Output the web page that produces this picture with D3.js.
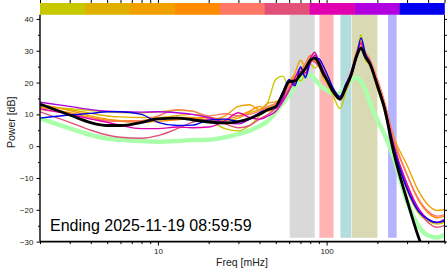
<!DOCTYPE html>
<html>
<head>
<meta charset="utf-8">
<script src="https://cdn.jsdelivr.net/npm/d3@7"></script>
<style>
  body { margin: 0; background: #fff; }
  svg { display: block; font-family: "Liberation Sans", Arial, sans-serif; }
</style>
</head>
<body>
<div id="chart"></div>
<script>
// frequency grid in mHz
const freqs = [2, 3, 4, 5, 6, 8, 10, 13, 16, 20, 25, 30, 35, 40, 45, 50, 55, 60, 65, 70, 75, 80, 85, 90, 95, 100,
  110, 120, 130, 140, 150, 160, 170, 180, 200, 220, 250, 300, 350, 400, 450, 500];

// power in dB for each time slice (same order as the colour bar)
const slice1 = [12.5, 11.8, 11.2, 10.8, 10.6, 10.5, 10.8, 11.3, 11.0, 8.5, 5.5, 4.8, 6.5, 9.5, 14, 21, 22, 18.5, 22, 20.5, 23, 26, 24.5, 25.5, 21.5, 20,
  15.5, 11.8, 17, 22, 28, 35, 27, 25.5, 18, 11, -1, -14, -21, -23.5, -24.5, -24];
const slice2 = [12.8, 11.5, 10.3, 9.5, 9.2, 9.0, 9.0, 9.6, 10.0, 9.2, 8.0, 8.8, 10.5, 11.5, 12, 13.5, 16, 19.5, 21, 24, 26, 28.5, 28, 26.5, 24, 21.5,
  17.5, 15, 18, 23, 29, 32, 29, 26.5, 19.5, 13, 0, -13, -20, -23, -24, -23.5];
const slice3 = [13.2, 11.2, 9.5, 8.5, 8.0, 8.0, 8.5, 9.0, 9.0, 8.2, 9.5, 12.5, 13, 11.5, 13.5, 14, 15.5, 20, 23, 27, 25, 28, 29, 26, 24.5, 22,
  18, 15.5, 19, 23.5, 29.5, 33, 29.5, 27, 21, 14, 3, -6, -14, -18.5, -20.2, -20];
const slice4 = [12.2, 10.5, 9.0, 8.2, 7.8, 7.5, 7.8, 8.3, 8.8, 9.0, 8.5, 9.5, 11, 12.5, 11, 12, 15, 18, 20, 22.5, 24, 26.5, 27, 25, 23.5, 21,
  17, 15, 18.5, 22.5, 28.5, 31.5, 29, 26.5, 20, 13, 1.5, -9, -17, -21, -22.5, -22];
const slice5 = [11.5, 10.2, 8.8, 8.0, 7.8, 8.0, 9.5, 11.5, 11.0, 9.5, 10.2, 9.5, 10, 11, 12.5, 13.5, 15.5, 19, 22, 23, 26, 28.5, 27.5, 26, 24, 21.5,
  17.5, 15.5, 19, 23, 28.5, 32, 29.5, 27.5, 21, 14, 2.5, -9, -16.5, -20.5, -22, -21.5];
const slice6 = [10.8, 7.5, 5.0, 3.5, 2.8, 2.5, 3.3, 5.5, 7.5, 8.5, 7.0, 5.8, 6.5, 8.5, 10, 12, 14.5, 18, 20.5, 22, 24.5, 27, 26.5, 25, 23, 20.5,
  16.5, 14.5, 18, 22, 27.5, 30.5, 28, 26, 19.5, 12, 0, -12, -20, -24, -25.5, -25];
const slice7 = [11.8, 10.0, 8.5, 7.5, 6.5, 5.5, 5.5, 6.0, 5.8, 6.0, 8.0, 10.5, 9, 8.5, 9.5, 11, 14, 17.5, 21.5, 24.5, 23, 27.5, 29.5, 26.5, 24, 21,
  17, 15.5, 19.5, 23.5, 29, 32.5, 28.5, 26, 19.5, 12.5, 0.5, -12, -19.5, -23, -24, -23.5];
const slice8 = [13.8, 12.5, 11.5, 11.0, 10.8, 10.7, 10.8, 10.5, 10.0, 9.0, 7.5, 7.0, 8.5, 10.5, 11.5, 12, 15, 20.5, 19.5, 23.5, 22, 26, 28.5, 27, 24, 21.5,
  17, 15, 18.5, 23, 28.5, 31, 28.5, 26.5, 19.5, 12.5, 0, -13, -20, -23, -24, -23];
const slice9 = [8.8, 9.8, 10.3, 10.8, 10.8, 10.0, 7.5, 6.5, 6.6, 8.2, 8.5, 7.8, 8.5, 10.5, 11.5, 12.5, 17, 21, 19, 25, 21.5, 27, 27.7, 27.5, 25.5, 23,
  18, 15.6, 19.5, 22.5, 27.5, 34, 29, 26.5, 19.5, 12.5, -0.5, -13.5, -20.5, -23, -24, -23.5];
const reference = [8.7, 5.6, 3.5, 2.4, 2.0, 1.6, 1.4, 1.6, 1.9, 2.0, 2.8, 3.8, 4.9, 6.3, 8.0, 10.8, 13.5, 16.1, 18.9, 20.8, 22.1, 22.4, 21.1, 19.6, 18.3, 17.7,
  16.4, 16.5, 19.3, 20.8, 21.4, 20.3, 17.7, 13.9, 8.2, 3.8, -3.5, -17.4, -25, -28.1, -28.7, -27.8];
const mean = [13.2, 9.8, 7.4, 6.5, 6.5, 7.5, 8.6, 8.8, 8.3, 7.6, 7.3, 7.7, 8.7, 10.0, 11.5, 12.5, 16.5, 20.3, 20.5, 22.5, 24.5, 27.0, 27.7, 26.0, 23.0, 21.0,
  17.0, 14.8, 18.5, 22.5, 28.0, 30.8, 28.0, 26.0, 19.0, 12.0, -2.0, -17, -28.5, -36, -40, -40];

const slices = [slice1, slice2, slice3, slice4, slice5, slice6, slice7, slice8, slice9];
const sliceColors = ['#c8c800', '#e0b000', '#f0a000', '#ff8c00', '#ff7866', '#e05078', '#e000b0', '#b000e0', '#0000ee'];

// shaded frequency bands [from, to] in mHz
const bandRanges = [[60, 85], [90, 110], [120, 140], [140, 200], [230, 260]];
const bandColors = ['#d9d9d9', '#ffb3b3', '#b3dcdc', '#d9d9b3', '#b3b3ff'];

const yTicks = [-30, -20, -10, 0, 10, 20, 30, 40];
const xTicks = [10, 100];
const caption = 'Ending 2025-11-19 08:59:59';

const width = 448, height = 271;
const plotLeft = 40, plotRight = 444.5, plotTop = 3, plotBottom = 241.6;

const svg = d3.select('#chart')
  .append('svg')
  .attr('width', width)
  .attr('height', height);

const xScale = d3.scaleLog().domain([2, 500]).range([plotLeft, plotRight]);
const yScale = d3.scaleLinear().domain([-30, 45]).range([plotBottom, plotTop]);

svg.append('clipPath').attr('id', 'plot')
  .append('rect')
  .attr('x', plotLeft).attr('y', yScale(41.3))
  .attr('width', plotRight - plotLeft).attr('height', plotBottom - yScale(41.3));

/* bands */
svg.append('g').selectAll('rect')
  .data(bandRanges)
  .join('rect')
  .attr('x', d => xScale(d[0]) + 0.5)
  .attr('width', d => xScale(d[1]) - xScale(d[0]) - 0.5)
  .attr('y', yScale(41.3))
  .attr('height', yScale(-28.8) - yScale(41.3))
  .attr('fill', (d, i) => bandColors[i]);

/* colour bar for the time slices */
const logMin = Math.log10(2), logMax = Math.log10(500);
const barEdges = d3.range(10).map(i => Math.pow(10, logMin + i * (logMax - logMin) / 9));
svg.append('g').selectAll('rect')
  .data(sliceColors)
  .join('rect')
  .attr('x', (d, i) => xScale(barEdges[i]))
  .attr('width', (d, i) => xScale(barEdges[i + 1]) - xScale(barEdges[i]) + 0.3)
  .attr('y', yScale(45))
  .attr('height', yScale(41.3) - yScale(45))
  .attr('fill', d => d);

const line = d3.line()
  .x((d, i) => xScale(freqs[i]))
  .y(d => yScale(d))
  .curve(d3.curveMonotoneX);

const lines = svg.append('g').attr('clip-path', 'url(#plot)');

lines.append('path')
  .datum(reference)
  .attr('fill', 'none')
  .attr('stroke', '#aaffaa')
  .attr('stroke-width', 4.5)
  .attr('d', line);

slices.forEach((s, i) => {
  lines.append('path')
    .datum(s)
    .attr('fill', 'none')
    .attr('stroke', sliceColors[i])
    .attr('stroke-width', 1.4)
    .attr('d', line);
});

lines.append('path')
  .datum(mean)
  .attr('fill', 'none')
  .attr('stroke', '#000')
  .attr('stroke-width', 2.8)
  .attr('d', line);

/* axes */
const minorX = [];
[1, 10, 100].forEach(dec => d3.range(1, 10).forEach(k => {
  const v = dec * k;
  if (v >= 2 && v <= 500 && xTicks.indexOf(v) < 0) minorX.push(v);
}));
const minorY = d3.range(-25, 45, 10);

function styleAxis(g) {
  g.select('.domain').remove();
  g.selectAll('line').attr('stroke', '#000');
  g.selectAll('text').attr('fill', '#222').style('font-size', '8px');
}

// bottom
svg.append('g').attr('transform', `translate(0,${plotBottom})`)
  .call(d3.axisBottom(xScale).tickValues(xTicks).tickFormat(d3.format('d')).tickSize(4).tickPadding(3))
  .call(styleAxis);
svg.append('g').attr('transform', `translate(0,${plotBottom})`)
  .call(d3.axisBottom(xScale).tickValues(minorX).tickFormat('').tickSize(2.5))
  .call(styleAxis);
// top
svg.append('g').attr('transform', `translate(0,${plotTop})`)
  .call(d3.axisTop(xScale).tickValues(xTicks.concat(minorX)).tickFormat('').tickSize(3))
  .call(styleAxis);
// left
svg.append('g').attr('transform', `translate(${plotLeft},0)`)
  .call(d3.axisLeft(yScale).tickValues(yTicks).tickFormat(d => d < 0 ? '\u2212' + Math.abs(d) : d).tickSize(3.5).tickPadding(3))
  .call(styleAxis);
svg.append('g').attr('transform', `translate(${plotLeft},0)`)
  .call(d3.axisLeft(yScale).tickValues(minorY).tickFormat('').tickSize(2))
  .call(styleAxis);
// right
svg.append('g').attr('transform', `translate(${plotRight},0)`)
  .call(d3.axisRight(yScale).tickValues(yTicks.concat(minorY)).tickFormat('').tickSize(2.5))
  .call(styleAxis);

// frame lines
svg.append('line').attr('x1', plotLeft).attr('x2', plotRight + 1).attr('y1', plotBottom).attr('y2', plotBottom)
  .attr('stroke', '#000').attr('stroke-width', 1.6);
svg.append('line').attr('x1', plotLeft).attr('x2', plotLeft).attr('y1', yScale(41.3)).attr('y2', plotBottom)
  .attr('stroke', '#000').attr('stroke-width', 1.4);
svg.append('line').attr('x1', plotRight).attr('x2', plotRight).attr('y1', yScale(41.3)).attr('y2', plotBottom)
  .attr('stroke', '#000').attr('stroke-width', 1);

/* labels */
svg.append('text')
  .text('Freq [mHz]')
  .attr('x', 242)
  .attr('y', 265.5)
  .attr('text-anchor', 'middle')
  .attr('fill', '#222')
  .style('font-size', '10.5px');

svg.append('text')
  .text('Power [dB]')
  .attr('transform', `translate(14.5,${(plotTop + plotBottom) / 2}) rotate(-90)`)
  .attr('text-anchor', 'middle')
  .attr('fill', '#222')
  .style('font-size', '10.5px');

svg.append('text')
  .text(caption)
  .attr('x', 50)
  .attr('y', 231)
  .attr('fill', '#000')
  .style('font-size', '16px');
</script>
</body>
</html>
